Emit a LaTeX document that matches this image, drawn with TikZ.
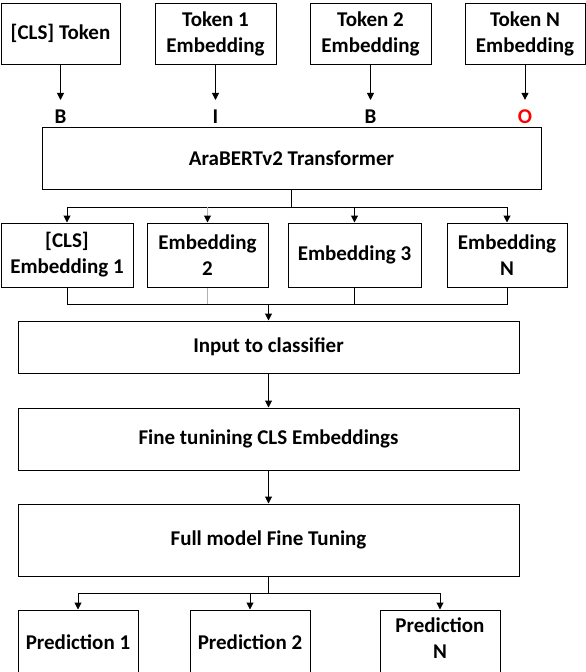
\documentclass[tikz,border=0pt]{standalone}
\usepackage{fontspec}
\setmainfont{Carlito}
\usetikzlibrary{arrows.meta}
\begin{document}
\begin{tikzpicture}[x=1pt,y=-1pt,
  box/.style={draw, line width=1pt, inner sep=0pt, align=center,
    font=\bfseries\fontsize{21}{26}\selectfont},
  tag/.style={inner sep=0pt, font=\bfseries\fontsize{21}{26}\selectfont},
  line/.style={line width=1pt},
  arr/.style={line width=1pt, -{Triangle[width=7pt,length=7pt]}},
  grayline/.style={line width=1pt, draw=black!30}]
\useasboundingbox (0,0) rectangle (586,672);
\clip (0,0) rectangle (586,672);
% top tokens
\node[box, minimum width=119pt, minimum height=61pt] (tcls) at (60.5,33.5) {[CLS] Token};
\node[box, minimum width=121pt, minimum height=61pt] (t1) at (215.5,33.5) {Token 1\\Embedding};
\node[box, minimum width=121pt, minimum height=61pt] (t2) at (370.5,33.5) {Token 2\\Embedding};
\node[box, minimum width=120pt, minimum height=61pt] (tN) at (525,33.5) {Token N\\Embedding};
% tags
\node[tag] (l1) at (60.5,117) {B};
\node[tag] (l2) at (215.5,117) {I};
\node[tag] (l3) at (370.5,117) {B};
\node[tag, text=red] (l4) at (525,117) {O};
\draw[arr, shorten >=10pt] (tcls.south) -- (l1.north);
\draw[arr, shorten >=10pt] (t1.south) -- (l2.north);
\draw[arr, shorten >=10pt] (t2.south) -- (l3.north);
\draw[arr, shorten >=10pt] (tN.south) -- (l4.north);
% transformer
\node[box, minimum width=499pt, minimum height=62pt] (trans) at (291.5,158) {AraBERTv2 Transformer};
% embeddings
\node[box, minimum width=132pt, minimum height=64pt] (e1) at (67,255) {[CLS]\\Embedding 1};
\node[box, minimum width=121pt, minimum height=64pt] (e2) at (207.5,255) {Embedding\\2};
\node[box, minimum width=133pt, minimum height=64pt] (e3) at (354.5,255) {Embedding 3};
\node[box, minimum width=120pt, minimum height=64pt] (eN) at (507,255) {Embedding\\N};
\coordinate (tj) at (291.5,207);
\draw[line] (trans.south) -- (tj);
\draw[arr] (tj) -| (e1.north);
\draw[arr] (tj) -| (eN.north);
\draw[grayline] (e2.north |- tj) -- ([yshift=7pt]e2.north);
\draw[arr] ([yshift=7pt]e2.north) -- (e2.north);
\draw[arr] (e3.north |- tj) -- (e3.north);
% join below embeddings
\coordinate (ej) at (268.5,304);
\draw[line] (e1.south) |- (ej);
\draw[line] (eN.south) |- (ej);
\draw[grayline] (e2.south) -- (e2.south |- ej);
\draw[line] (e3.south) -- (e3.south |- ej);
% classifier chain
\node[box, minimum width=501pt, minimum height=52pt] (inp) at (268.5,347) {Input to classifier};
\node[box, minimum width=501pt, minimum height=62pt] (fine) at (268.5,439) {Fine tunining CLS Embeddings};
\node[box, minimum width=501pt, minimum height=72pt] (full) at (268.5,540) {Full model Fine Tuning};
\draw[arr] (ej) -- (inp.north);
\draw[arr] (inp) -- (fine);
\draw[arr] (fine) -- (full);
% predictions
\node[box, minimum width=120pt, minimum height=64pt] (p1) at (78,642) {Prediction 1};
\node[box, minimum width=120pt, minimum height=64pt] (p2) at (250,642) {Prediction 2};
\node[box, minimum width=120pt, minimum height=64pt, text depth=8pt] (pN) at (440,642) {Prediction\\N};
\coordinate (fj) at (268.5,593);
\draw[line] (full.south) -- (fj);
\draw[arr] (fj) -| (p1.north);
\draw[arr] (fj) -| (pN.north);
\draw[arr] (p2.north |- fj) -- (p2.north);
\end{tikzpicture}
\end{document}
